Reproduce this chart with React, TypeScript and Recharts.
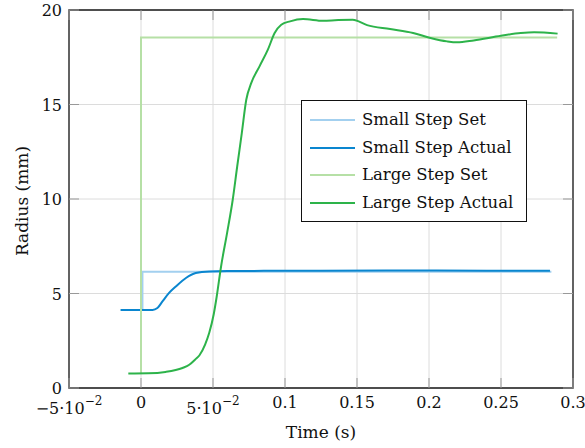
import React from 'react';
import { LineChart, Line, XAxis, YAxis, CartesianGrid, ReferenceArea, Legend } from 'recharts';

const W = 585;
const H = 448;
const MARGIN = { top: 10, right: 12, left: 0, bottom: 0 };
const Y_AXIS_W = 69;
const X_AXIS_H = 60;
const PLOT_TOP = MARGIN.top;
const PLOT_RIGHT = W - MARGIN.right;
const TICK_LEN = 10;
const FONT = "'DejaVu Serif', 'Liberation Serif', serif";

const xTicks = [-0.05, 0, 0.05, 0.1, 0.15, 0.2, 0.25, 0.3];
const yTicks = [0, 5, 10, 15, 20];

const smallStepSet = [
  { t: 0.001, r: 4.13 },
  { t: 0.001, r: 6.15 },
  { t: 0.285, r: 6.15 },
];

const smallStepActual = [
  { t: -0.0142, r: 4.13 },
  { t: 0.008, r: 4.13 },
  { t: 0.0114, r: 4.23 },
  { t: 0.0149, r: 4.58 },
  { t: 0.0195, r: 5.03 },
  { t: 0.0242, r: 5.37 },
  { t: 0.0312, r: 5.82 },
  { t: 0.038, r: 6.08 },
  { t: 0.0474, r: 6.17 },
  { t: 0.06, r: 6.19 },
  { t: 0.1, r: 6.2 },
  { t: 0.17, r: 6.22 },
  { t: 0.24, r: 6.21 },
  { t: 0.284, r: 6.21 },
];

const largeStepSet = [
  { t: 0, r: 0.77 },
  { t: 0, r: 18.55 },
  { t: 0.289, r: 18.55 },
];

const largeStepActual = [
  { t: -0.0088, r: 0.77 },
  { t: 0.005, r: 0.78 },
  { t: 0.017, r: 0.85 },
  { t: 0.0288, r: 1.06 },
  { t: 0.0335, r: 1.23 },
  { t: 0.0375, r: 1.5 },
  { t: 0.0405, r: 1.72 },
  { t: 0.0445, r: 2.3 },
  { t: 0.0474, r: 2.92 },
  { t: 0.0505, r: 3.9 },
  { t: 0.0525, r: 4.8 },
  { t: 0.0556, r: 6.43 },
  { t: 0.0598, r: 8.21 },
  { t: 0.0637, r: 9.96 },
  { t: 0.0668, r: 11.72 },
  { t: 0.07, r: 13.49 },
  { t: 0.0731, r: 15.25 },
  { t: 0.0766, r: 16.14 },
  { t: 0.0823, r: 17.02 },
  { t: 0.0881, r: 17.9 },
  { t: 0.0928, r: 18.78 },
  { t: 0.0974, r: 19.22 },
  { t: 0.1035, r: 19.4 },
  { t: 0.1125, r: 19.52 },
  { t: 0.1265, r: 19.43 },
  { t: 0.137, r: 19.47 },
  { t: 0.147, r: 19.48 },
  { t: 0.157, r: 19.2 },
  { t: 0.173, r: 18.99 },
  { t: 0.189, r: 18.78 },
  { t: 0.201, r: 18.52 },
  { t: 0.2125, r: 18.34 },
  { t: 0.2195, r: 18.29 },
  { t: 0.231, r: 18.39 },
  { t: 0.25, r: 18.64 },
  { t: 0.2637, r: 18.78 },
  { t: 0.273, r: 18.82 },
  { t: 0.2893, r: 18.75 },
];

const seriesNames = ['Small Step Set', 'Small Step Actual', 'Large Step Set', 'Large Step Actual'];
const seriesColors = ['#a3d0ef', '#0a86cf', '#b6e0a6', '#2db34a'];
const seriesCurve = ['linear', 'monotone', 'linear', 'monotone'];
const seriesData = [smallStepSet, smallStepActual, largeStepSet, largeStepActual];

const fmtNum = (v: number) => String(v).replace('-', '\u2212');

const XTick = (props: any) => {
  const { x, y, payload } = props;
  const v: number = payload.value;
  const isSci = v !== 0 && Math.abs(v) < 0.1;
  return (
    <g>
      <line x1={x} y1={y} x2={x} y2={y - TICK_LEN} stroke="#999" strokeWidth={1} />
      <line x1={x} y1={PLOT_TOP} x2={x} y2={PLOT_TOP + TICK_LEN} stroke="#999" strokeWidth={1} />
      {isSci ? (
        <text x={x} y={y + 26} textAnchor="middle" fontFamily={FONT} fontSize={16} fill="#111">
          {(v < 0 ? '\u2212' : '') + Math.round(Math.abs(v) * 100) + '\u00b710'}
          <tspan dy={-9} fontSize={12}>{'\u22122'}</tspan>
        </text>
      ) : (
        <text x={x} y={y + 20} textAnchor="middle" fontFamily={FONT} fontSize={16} fill="#111">
          {fmtNum(v)}
        </text>
      )}
    </g>
  );
};

const YTick = (props: any) => {
  const { x, y, payload } = props;
  return (
    <g>
      <line x1={x} y1={y} x2={x + TICK_LEN} y2={y} stroke="#999" strokeWidth={1} />
      <line x1={PLOT_RIGHT} y1={y} x2={PLOT_RIGHT - TICK_LEN} y2={y} stroke="#999" strokeWidth={1} />
      <text x={x - 7} y={y + 6} textAnchor="end" fontFamily={FONT} fontSize={16} fill="#111">
        {fmtNum(payload.value)}
      </text>
    </g>
  );
};

const LegendBox = (props: any) => {
  const payload = [...(props.payload || [])].sort(
    (a: any, b: any) => seriesNames.indexOf(a.value) - seriesNames.indexOf(b.value)
  );
  return (
    <div
      style={{
        border: '1px solid #111',
        background: '#fff',
        width: 226,
        height: 122,
        boxSizing: 'border-box',
        paddingTop: 5,
        fontFamily: FONT,
        fontSize: 16.5,
        color: '#111',
      }}
    >
      {payload.map((p: any) => (
        <div key={p.value} style={{ display: 'flex', alignItems: 'center', height: 27.7 }}>
          <svg width={60} height={10} style={{ flex: 'none' }}>
            <line x1={8} y1={5} x2={53} y2={5} stroke={p.color} strokeWidth={2.2} />
          </svg>
          <span style={{ whiteSpace: 'nowrap', lineHeight: '20px' }}>{p.value}</span>
        </div>
      ))}
    </div>
  );
};

export default function App() {
  return (
    <div style={{ position: 'absolute', left: 0, top: 0, width: W, height: H, background: '#fff' }}>
      <LineChart width={W} height={H} margin={MARGIN}>
        <CartesianGrid stroke="#dcdcdc" strokeWidth={1} />
        <XAxis
          type="number"
          dataKey="t"
          domain={[-0.05, 0.3]}
          ticks={xTicks}
          allowDataOverflow
          height={X_AXIS_H}
          axisLine={false}
          tickLine={false}
          tickSize={0}
          tickMargin={0}
          interval={0}
          tick={<XTick />}
          label={{
            content: (p: any) => (
              <text
                x={p.viewBox.x + p.viewBox.width / 2}
                y={p.viewBox.y + 50}
                textAnchor="middle"
                fontFamily={FONT}
                fontSize={17}
                fill="#111"
              >
                Time (s)
              </text>
            ),
          }}
        />
        <YAxis
          type="number"
          dataKey="r"
          domain={[0, 20]}
          ticks={yTicks}
          allowDataOverflow
          width={Y_AXIS_W}
          axisLine={false}
          tickLine={false}
          tickSize={0}
          tickMargin={0}
          interval={0}
          tick={<YTick />}
          label={{
            content: (p: any) => {
              const cx = 27.5;
              const cy = p.viewBox.y + p.viewBox.height / 2 + 2;
              return (
                <text
                  x={cx}
                  y={cy}
                  transform={`rotate(-90 ${cx} ${cy})`}
                  textAnchor="middle"
                  fontFamily={FONT}
                  fontSize={17}
                  fill="#111"
                >
                  Radius (mm)
                </text>
              );
            },
          }}
        />
        <ReferenceArea x1={-0.05} x2={0.3} y1={0} y2={20} fill="none" stroke="#1a1a1a" strokeWidth={1.3} fillOpacity={0} />
        {seriesData.map((d, i) => (
          <Line
            key={seriesNames[i]}
            data={d}
            dataKey="r"
            name={seriesNames[i]}
            type={seriesCurve[i] as any}
            stroke={seriesColors[i]}
            strokeWidth={2}
            dot={false}
            activeDot={false}
            isAnimationActive={false}
          />
        ))}
        <Legend
          layout="vertical"
          align="center"
          verticalAlign="middle"
          content={<LegendBox />}
          wrapperStyle={{ position: 'absolute', left: 301, top: 100, width: 226, height: 122 }}
        />
      </LineChart>
    </div>
  );
}
